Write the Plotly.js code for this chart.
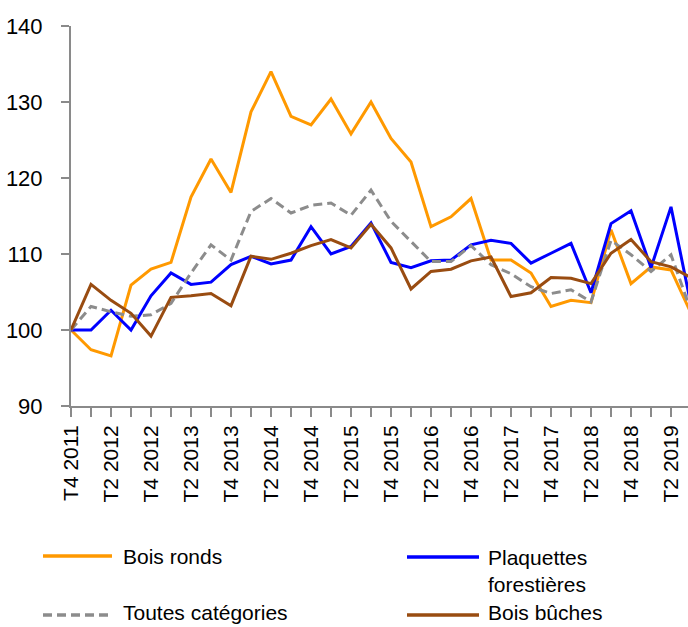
<!DOCTYPE html>
<html>
<head>
<meta charset="utf-8">
<script src="https://cdn.plot.ly/plotly-3.0.1.min.js"></script>
<style>html,body{margin:0;padding:0;background:#fff;}#chart{width:688px;height:627px;}</style>
</head>
<body>
<div id="chart"></div>
<script>
// Quarters T4 2011 .. T3 2019
const quarters = ["T4 2011","T1 2012","T2 2012","T3 2012","T4 2012","T1 2013","T2 2013","T3 2013","T4 2013",
  "T1 2014","T2 2014","T3 2014","T4 2014","T1 2015","T2 2015","T3 2015","T4 2015","T1 2016","T2 2016","T3 2016",
  "T4 2016","T1 2017","T2 2017","T3 2017","T4 2017","T1 2018","T2 2018","T3 2018","T4 2018","T1 2019","T2 2019","T3 2019"];

const boisRonds = [100,97.4,96.6,105.9,108,108.9,117.5,122.5,118.1,128.7,134,128.1,127,130.4,125.8,130,125.2,122.1,
  113.6,114.9,117.3,109.2,109.2,107.5,103.1,103.9,103.6,113.2,106.1,108.3,107.9,102.2];
const plaquettes = [100,100,102.6,100,104.5,107.5,106,106.3,108.6,109.7,108.7,109.2,113.6,110,111,114.1,108.9,108.2,
  109.1,109.2,111.2,111.8,111.4,108.8,110.1,111.4,104.9,114,115.7,108.2,116.2,103.3];
const toutes = [100,103.1,102.4,101.8,102,103.5,107.5,111.2,109.2,115.6,117.3,115.4,116.4,116.7,115.1,118.4,114.3,111.6,
  109,109,111.1,108.6,107.4,105.7,104.8,105.3,103.7,111.8,109.9,107.7,109.9,102.5];
const boisBuches = [100,106,103.9,102.2,99.2,104.3,104.5,104.8,103.2,109.7,109.3,110.1,111.1,111.9,110.8,113.9,110.8,105.4,
  107.7,108,109.1,109.6,104.4,104.9,106.9,106.8,106.1,110.1,111.9,109,108.3,106.9];

const seriesNames = ["Bois ronds","Plaquettes<br>forestières","Toutes catégories","Bois bûches"];
const yTicks = [90,100,110,120,130,140];

const idx = quarters.map((q,i)=>i);
const tickText = quarters.map((q,i)=> i%2===0 ? q : "");

const colors = {ronds:"#FF9900", plaq:"#0000FF", toutes:"#8C8C8C", buches:"#994C11"};
const dashStyle = "9px,5px";

const traces = [
  {x:idx, y:boisRonds, name:"Bois ronds", type:"scatter", mode:"lines", line:{color:colors.ronds, width:3}},
  {x:idx, y:plaquettes, name:"Plaquettes forestières", type:"scatter", mode:"lines", line:{color:colors.plaq, width:3}},
  {x:idx, y:toutes, name:"Toutes catégories", type:"scatter", mode:"lines", line:{color:colors.toutes, width:3, dash:dashStyle}},
  {x:idx, y:boisBuches, name:"Bois bûches", type:"scatter", mode:"lines", line:{color:colors.buches, width:3}}
];

// plot area in px: x 71..688, y 26..406
const L=71, R=688, T=26, B=406;
const px = v => (v-L)/(R-L);
const py = v => (B-v)/(B-T);

const legendItems = [
  {name:seriesNames[0], color:colors.ronds, dash:"solid", lx0:43, lx1:112, tx:122, ly:556, ty:556},
  {name:seriesNames[1], color:colors.plaq, dash:"solid", lx0:407, lx1:479, tx:487, ly:557, ty:571},
  {name:seriesNames[2], color:colors.toutes, dash:dashStyle, lx0:43, lx1:112, tx:122, ly:615, ty:612},
  {name:seriesNames[3], color:colors.buches, dash:"solid", lx0:407, lx1:479, tx:487, ly:615, ty:612}
];
const shapes = legendItems.map(it=>({type:"line", xref:"paper", yref:"paper",
  x0:px(it.lx0), x1:px(it.lx1), y0:py(it.ly), y1:py(it.ly),
  line:{color:it.color, width:3.5, dash:it.dash}}));
const annotations = legendItems.map(it=>({xref:"paper", yref:"paper", x:px(it.tx), y:py(it.ty),
  xanchor:"left", yanchor:"middle", align:"left", showarrow:false, text:it.name, borderpad:0,
  font:{family:"Liberation Sans, Arial, sans-serif", size:21, color:"#000"}}));

const layout = {
  width:688, height:627,
  margin:{l:L, r:688-R, t:T, b:627-B, pad:0},
  paper_bgcolor:"#fff", plot_bgcolor:"#fff",
  showlegend:false,
  font:{family:"Liberation Sans, Arial, sans-serif", size:22, color:"#000"},
  xaxis:{range:[0,(R-L)/20], tickmode:"array", tickvals:idx, ticktext:tickText, tickangle:-90,
    ticks:"outside", ticklen:9, tickwidth:2, tickcolor:"#8a8a8a",
    showline:true, linecolor:"#8a8a8a", linewidth:2, showgrid:false, zeroline:false,
    tickfont:{size:21, color:"#000"}, ticklabelstandoff:0, fixedrange:true},
  yaxis:{range:[90,140], tickmode:"array", tickvals:yTicks, ticktext:yTicks.map(String),
    ticks:"outside", ticklen:8, tickwidth:2, tickcolor:"#8a8a8a",
    showline:true, linecolor:"#8a8a8a", linewidth:2, showgrid:false, zeroline:false,
    tickfont:{size:22, color:"#000"}, ticklabelstandoff:14, fixedrange:true},
  yaxis2:{overlaying:"y", side:"left", range:[90,140], dtick:5, tick0:90, ticks:"inside", ticklen:7, tickwidth:2,
    tickcolor:"#8a8a8a", showticklabels:false, showline:false, showgrid:false, zeroline:false, fixedrange:true},
  shapes:shapes,
  annotations:annotations
};

Plotly.newPlot("chart", traces, layout, {displayModeBar:false, staticPlot:true});
</script>
</body>
</html>
